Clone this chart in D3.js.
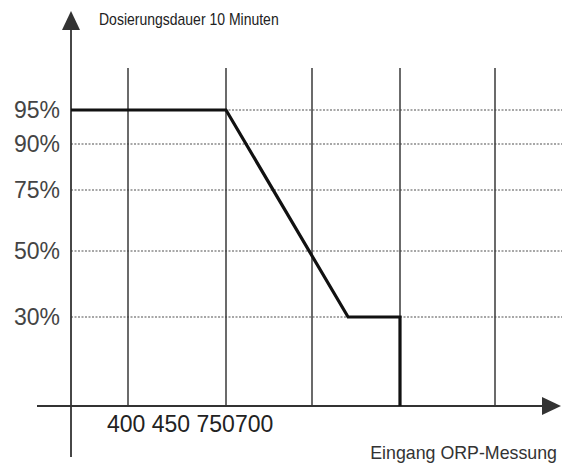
<!DOCTYPE html>
<html>
<head>
<meta charset="utf-8">
<script src="https://cdn.jsdelivr.net/npm/d3@7"></script>
<style>
  body { margin: 0; background: #fff; }
  svg text { font-family: "Liberation Sans", Arial, Helvetica, sans-serif; fill: #333; }
</style>
</head>
<body>
<div id="chart"></div>
<script>
  // y values with their tick labels (percent of dosing time)
  var yTicks = [95, 90, 75, 50, 30];
  var yTickLabels = ["95%", "90%", "75%", "50%", "30%"];

  // vertical grid lines, in grid units along the ORP axis
  var xGrid = [1, 2, 3, 4, 5];
  var xTickLabels = ["400", "450", "750", "700"];

  // the dosing curve
  var curveX = [0, 2, 3.41, 4, 4];
  var curveY = [95, 95, 30, 30, 0];

  var titleY = "Dosierungsdauer 10 Minuten",
      titleX = "Eingang ORP-Messung";

  var w = 565,
      h = 467,
      gridTop = 68,
      lineRight = 562,
      font = "'Liberation Sans', Arial, sans-serif";

  var svg = d3.select("#chart").append("svg")
      .attr("width", w)
      .attr("height", h)
      .attr("font-family", font);

  // the drawing is not evenly spaced, so both scales are piecewise
  var x = d3.scaleLinear()
      .domain([0, 1, 2, 3, 4, 5])
      .range([71, 128, 226, 312, 400, 495]);

  var y = d3.scaleLinear()
      .domain([0, 30, 50, 75, 90, 95])
      .range([406, 317, 251, 190, 144, 110]);

  //dotted horizontal lines
  svg.selectAll("line.hgrid").data(yTicks)
    .enter().append("line")
    .attr("class", "hgrid")
    .attr("x1", x(0))
    .attr("x2", lineRight)
    .attr("y1", function(d){ return y(d); })
    .attr("y2", function(d){ return y(d); })
    .attr("stroke", "#8a8a8a")
    .attr("stroke-width", 1.6)
    .attr("stroke-dasharray", "2,1.5");

  //vertical lines
  svg.selectAll("line.vgrid").data(xGrid)
    .enter().append("line")
    .attr("class", "vgrid")
    .attr("x1", function(d){ return x(d); })
    .attr("x2", function(d){ return x(d); })
    .attr("y1", gridTop)
    .attr("y2", y(0))
    .attr("stroke", "#3a3a3a")
    .attr("stroke-width", 1.5);

  // axes
  svg.append("line")
    .attr("x1", 37).attr("x2", 545)
    .attr("y1", y(0)).attr("y2", y(0))
    .attr("stroke", "#333").attr("stroke-width", 1.8);
  svg.append("line")
    .attr("x1", x(0)).attr("x2", x(0))
    .attr("y1", 28).attr("y2", 457)
    .attr("stroke", "#333").attr("stroke-width", 1.8);

  svg.append("path")
    .attr("d", "M542," + (y(0) - 9) + "L561," + y(0) + "L542," + (y(0) + 9) + "Z")
    .attr("fill", "#333");
  svg.append("path")
    .attr("d", "M" + (x(0) - 9) + ",30L" + x(0) + ",11L" + (x(0) + 9) + ",30Z")
    .attr("fill", "#333");

  // curve
  var pts = curveX.map(function(d, i){ return [d, curveY[i]]; });
  svg.append("path")
    .datum(pts)
    .attr("d", d3.line()
      .x(function(d){ return x(d[0]); })
      .y(function(d){ return y(d[1]); }))
    .attr("fill", "none")
    .attr("stroke", "#111")
    .attr("stroke-width", 3.2)
    .attr("stroke-linejoin", "miter");

  // y tick labels
  svg.selectAll("text.ylab").data(yTicks)
    .enter().append("text")
    .attr("class", "ylab")
    .attr("x", 60)
    .attr("y", function(d){ return y(d); })
    .attr("dy", "0.35em")
    .attr("text-anchor", "end")
    .attr("font-family", font)
    .style("font-size", "23px")
    .style("fill", "#444")
    .text(function(d, i){ return yTickLabels[i]; });

  // x tick labels, written as one run the way the drawing has them
  var xl = svg.append("text")
    .attr("x", 107)
    .attr("y", 432)
    .attr("font-family", font)
    .style("font-size", "23px")
    .style("fill", "#222");
  xl.selectAll("tspan").data(xTickLabels)
    .enter().append("tspan")
    .text(function(d, i){
      return (i < xTickLabels.length - 2) ? d + " " : d;
    });

  // axis titles (the top one is a bit stretched in the original)
  svg.append("text")
    .attr("transform", "translate(99,25) scale(1,1.15)")
    .attr("font-family", font)
    .style("font-size", "14px")
    .style("fill", "#222")
    .text(titleY);
  svg.append("text")
    .attr("x", 557)
    .attr("y", 459)
    .attr("text-anchor", "end")
    .attr("font-family", font)
    .style("font-size", "17.8px")
    .style("fill", "#333")
    .text(titleX);
</script>
</body>
</html>
